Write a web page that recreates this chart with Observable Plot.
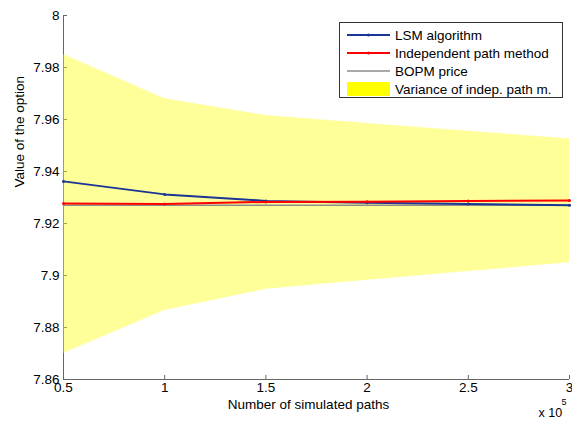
<!DOCTYPE html>
<html>
<head>
<meta charset="utf-8">
<script src="https://cdn.jsdelivr.net/npm/d3@7"></script>
<script src="https://cdn.jsdelivr.net/npm/@observablehq/plot@0.6"></script>
<style>
  html, body { margin: 0; padding: 0; background: #fff; }
  #wrap { position: relative; width: 572px; height: 421px; font-family: "Liberation Sans", Arial, sans-serif; }
  #legend { position: absolute; left: 339px; top: 22px; width: 224px; height: 76px; border: 1px solid #333; background: #fff; box-sizing: border-box; }
  #legend .row { position: absolute; left: 7px; height: 18px; display: flex; align-items: center; font-size: 13.5px; color: #000; white-space: nowrap; }
  #legend svg { margin-right: 5px; }
</style>
</head>
<body>
<div id="wrap"></div>
<script>
// ---- data ----
const paths = [50000, 100000, 150000, 200000, 250000, 300000];
const lsmValues = [7.9362, 7.9312, 7.9287, 7.9280, 7.9275, 7.9270];
const indepValues = [7.9277, 7.9275, 7.9283, 7.9284, 7.9287, 7.9288];
const bopmPrice = 7.9270;
const bandUpper = [7.9850, 7.9680, 7.9615, 7.9585, 7.9555, 7.9525];
const bandLower = [7.8700, 7.8865, 7.8947, 7.8982, 7.9015, 7.9049];
const xTicks = [50000, 100000, 150000, 200000, 250000, 300000];
const yTicks = [7.86, 7.88, 7.90, 7.92, 7.94, 7.96, 7.98, 8.00];
const seriesNames = ["LSM algorithm", "Independent path method", "BOPM price", "Variance of indep. path m."];
const seriesColors = ["#1a3596", "#ff0000", "#8c8c8c", "#ffff00"];

// ---- layout ----
const W = 572, H = 421;
const mL = 63, mR = 3, mT = 15, mB = 42;
const plotW = W - mL - mR, plotH = H - mT - mB;
const axisColor = "#666";

const lsm = paths.map((p, i) => ({p, v: lsmValues[i]}));
const indep = paths.map((p, i) => ({p, v: indepValues[i]}));
const bopm = paths.map(p => ({p, v: bopmPrice}));
const band = paths.map((p, i) => ({p, lo: bandLower[i], hi: bandUpper[i]}));

const chart = Plot.plot({
  width: W, height: H,
  marginLeft: mL, marginRight: mR, marginTop: mT, marginBottom: mB,
  style: {fontFamily: "'Liberation Sans', Arial, sans-serif", fontSize: "13.5px", color: "#000", background: "#fff", overflow: "visible"},
  x: {domain: [xTicks[0], xTicks[xTicks.length - 1]]},
  y: {domain: [yTicks[0], yTicks[yTicks.length - 1]]},
  marks: [
    Plot.axisX(xTicks, {tickSize: 0, tickPadding: 3, tickFormat: d => String(d / 1e5), label: null}),
    Plot.axisY(yTicks, {tickSize: 0, tickPadding: 4, tickFormat: d => String(+d.toFixed(2)), label: null}),
    Plot.tickX(xTicks, {x: d => d, insetTop: plotH - 4, stroke: axisColor}),
    Plot.tickY(yTicks, {y: d => d, insetRight: plotW - 4, stroke: axisColor}),
    Plot.ruleX([xTicks[0]], {stroke: axisColor}),
    Plot.ruleY([yTicks[0]], {stroke: axisColor}),
    Plot.areaY(band, {x: "p", y1: "lo", y2: "hi", fill: seriesColors[3], fillOpacity: 0.4}),
    Plot.lineY(bopm, {x: "p", y: "v", stroke: seriesColors[2], strokeWidth: 1.5}),
    Plot.lineY(lsm, {x: "p", y: "v", stroke: seriesColors[0], strokeWidth: 2}),
    Plot.dot(lsm, {x: "p", y: "v", r: 1.5, fill: seriesColors[0]}),
    Plot.lineY(indep, {x: "p", y: "v", stroke: seriesColors[1], strokeWidth: 2}),
    Plot.dot(indep, {x: "p", y: "v", r: 1.5, fill: seriesColors[1]}),
    Plot.text(["Value of the option"], {frameAnchor: "left", rotate: -90, dx: -44, dy: -10, fontSize: 13.5}),
    Plot.text(["Number of simulated paths"], {frameAnchor: "bottom", dy: 29, dx: -8, fontSize: 13.5}),
    Plot.text(["x 10"], {frameAnchor: "bottom-right", dx: -31, dy: 37, textAnchor: "start", fontSize: 12.5}),
    Plot.text(["5"], {frameAnchor: "bottom-right", dx: -8, dy: 25, textAnchor: "start", fontSize: 9})
  ]
});

const wrap = document.getElementById("wrap");
wrap.appendChild(chart);

// ---- legend ----
const legend = document.createElement("div");
legend.id = "legend";
seriesNames.forEach((name, i) => {
  const row = document.createElement("div");
  row.className = "row";
  row.style.top = (3 + i * 18) + "px";
  let sample;
  if (i === 3) {
    sample = `<svg width="43" height="14"><rect x="0" y="0" width="43" height="14" fill="${seriesColors[i]}"/></svg>`;
  } else {
    const dot = i < 2 ? `<circle cx="21.5" cy="7" r="1.5" fill="${seriesColors[i]}"/>` : "";
    sample = `<svg width="43" height="14"><line x1="0" x2="43" y1="7" y2="7" stroke="${seriesColors[i]}" stroke-width="${i < 2 ? 2 : 1.5}"/>${dot}</svg>`;
  }
  row.innerHTML = sample + `<span>${name}</span>`;
  legend.appendChild(row);
});
wrap.appendChild(legend);
</script>
</body>
</html>
